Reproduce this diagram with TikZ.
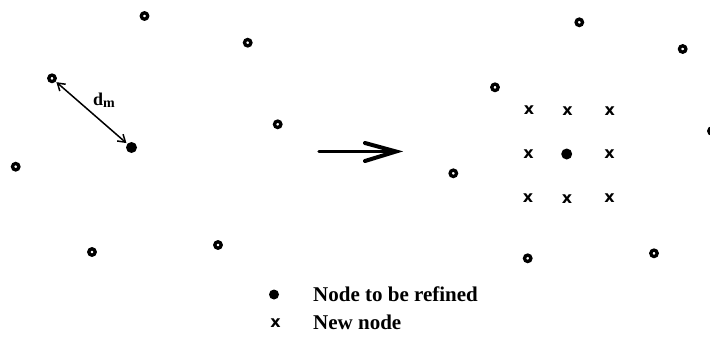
\documentclass[tikz,border=0pt]{standalone}
\usepackage{fontspec}
\setmainfont{Liberation Serif}
\newfontfamily\marksans{DejaVu Sans}
\usetikzlibrary{arrows.meta}
\tikzset{
  oldnode/.style={circle, draw, line width=3.3pt, minimum size=6.4pt, inner sep=0pt},
  refnode/.style={circle, fill, minimum size=11pt, inner sep=0pt},
  newnode/.style={inner sep=0pt, font=\marksans\bfseries\fontsize{16}{16}\selectfont},
  legendtext/.style={inner sep=0pt, anchor=base west, font=\bfseries\fontsize{21}{21}\selectfont},
  distarrow/.style={line width=1.5pt, {Straight Barb[length=7pt,width=9pt]}-{Straight Barb[length=7pt,width=9pt]}, shorten <=1pt, shorten >=1pt},
  bigarrow/.style={line width=3.4pt, line cap=round}
}
\begin{document}
\begin{tikzpicture}[x=1pt, y=-1pt]
\useasboundingbox (0,0) rectangle (710,337);

% existing nodes before refinement
\node[oldnode] (a1) at (144.5,16) {};
\node[oldnode] (a2) at (247.7,42.7) {};
\node[oldnode] (a3) at (52,78.3) {};
\node[oldnode] (a4) at (277.7,124.3) {};
\node[oldnode] (a5) at (15.7,166.7) {};
\node[oldnode] (a6) at (92,252) {};
\node[oldnode] (a7) at (218,245) {};
\node[refnode] (ra) at (131.5,147.5) {};

% minimum distance to the nearest neighbour
\draw[distarrow] (a3) -- (ra);
\node[inner sep=0pt, anchor=base west] (dm) at (93,106)
  {\bfseries\fontsize{18}{18}\selectfont d\raisebox{-1.5pt}{\fontsize{14}{14}\selectfont m}};

% refinement step
\coordinate (s0) at (319,151.5);
\coordinate (s1) at (396,151.5);
\coordinate (b1) at (365,143);
\coordinate (b2) at (365,161);
\draw[bigarrow] (s0) -- (s1);
\draw[bigarrow, line width=4pt, line join=miter] (b1) -- (s1) -- (b2);

% nodes after refinement
\node[oldnode] (b1n) at (579.3,22.3) {};
\node[oldnode] (b2n) at (682.7,49) {};
\node[oldnode] (b3n) at (495,87.3) {};
\node[oldnode] (b4n) at (712,131) {};
\node[oldnode] (b5n) at (453.3,173.3) {};
\node[oldnode] (b6n) at (527.7,258.3) {};
\node[oldnode] (b7n) at (654,253.3) {};
\node[refnode] (rb) at (566.7,154) {};

% inserted nodes around the refined one
\node[newnode] (x1) at (529,110.5) {x};
\node[newnode] (x2) at (567.5,111) {x};
\node[newnode] (x3) at (609.7,111.5) {x};
\node[newnode] (x4) at (528.5,154) {x};
\node[newnode] (x6) at (609.5,154) {x};
\node[newnode] (x7) at (528,198.3) {x};
\node[newnode] (x8) at (567,199) {x};
\node[newnode] (x9) at (609.5,198.3) {x};

% legend
\node[refnode, minimum size=10pt] (lg1) at (274,294.5) {};
\node[newnode] (lg2) at (275.5,323.5) {x};
\node[legendtext] (lt1) at (313,301) {Node to be refined};
\node[legendtext] (lt2) at (313,329) {New node};
\end{tikzpicture}
\end{document}
